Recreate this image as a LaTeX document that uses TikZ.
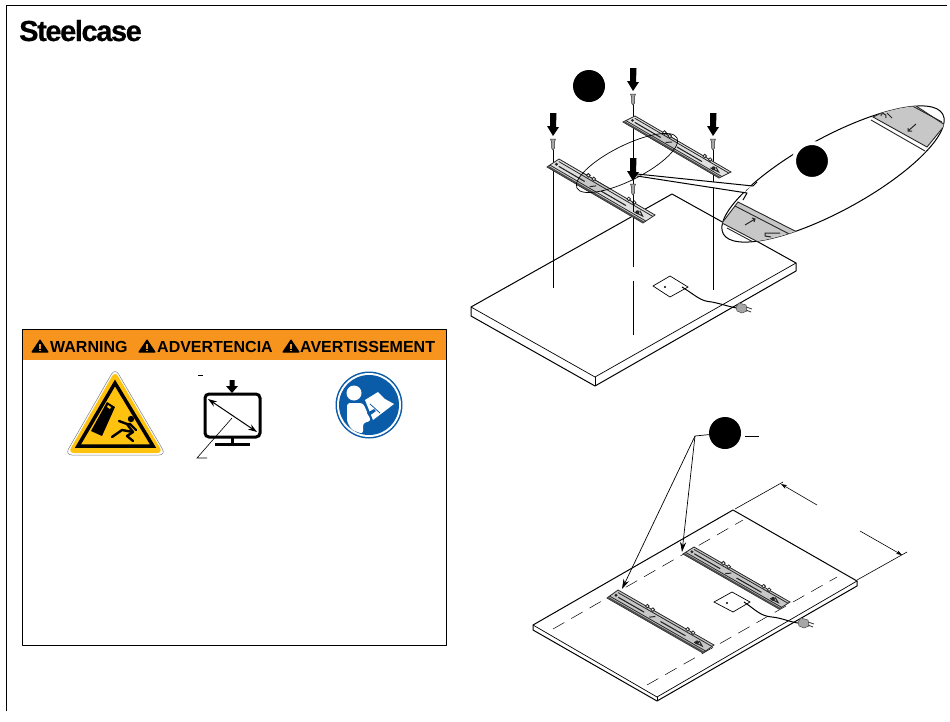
\documentclass[tikz,border=0pt]{standalone}
\usepackage{xcolor}
\usepackage{fontspec}
\usetikzlibrary{arrows.meta}
\setmainfont{Liberation Sans}
\definecolor{hdrorange}{HTML}{F7941E}
\definecolor{signyellow}{HTML}{FFC20E}
\definecolor{signblue}{HTML}{0B5CA8}
\definecolor{railgray}{gray}{0.78}
\definecolor{raillight}{gray}{0.88}

\tikzset{
    edge/.style={line width=1pt, line join=round},
    thinline/.style={line width=0.7pt},
    railline/.style={line width=0.8pt, draw=black!85},
    badge/.style={circle, fill=black, inner sep=0pt, outer sep=0pt, minimum size=32pt},
    halo/.style={circle, fill=black, draw=white, line width=4pt, inner sep=0pt, minimum size=36pt},
    hdr/.style={anchor=base west, inner sep=0pt, font=\fontsize{16}{16}\selectfont\bfseries}
}

% rail: origin, length vector, width vector (both in pt, y up), fill
\newcommand{\rail}[4]{
    \begin{scope}[shift={#1}, x={#2}, y={#3}]
        \filldraw[railline, fill=#4] (0,0) -- (1,0) -- (1,1) -- (0,1) -- cycle;
        \fill[black!70] (0,0) -- (1,0) -- (1,0.14) -- (0,0.14) -- cycle;
        \draw[railline] (0,0.24) -- (1,0.24);
        \draw[railline] (0.02,0.82) -- (1,0.82);
        \draw[railline, line width=1.1pt] (0.06,0.5) -- (0.33,0.5);
        \draw[railline, line width=1.1pt] (0.5,0.5) -- (0.76,0.5);
        \draw[railline, line width=1pt] (0.4,0.35) -- (0.43,0.65);
        \draw[railline, line width=1pt] (0.86,0.4) -- (0.94,0.45) -- (0.88,0.7);
        \fill[black!85] (0.03,0.55) circle [radius=1.6pt];
        \fill[black!85] (0.88,0.5) circle [radius=2pt];
        \draw[railline, fill=white] (0.3,1.05) circle [radius=1.8pt];
        \draw[railline, fill=white] (0.36,1.02) circle [radius=1.8pt];
        \draw[railline, fill=white] (0.72,1.05) circle [radius=1.8pt];
        \draw[railline, fill=white] (0.78,1.02) circle [radius=1.8pt];
    \end{scope}
}

% push arrow with its screw under it, #1 is the arrow top
\newcommand{\pushscrew}[1]{
    \begin{scope}[shift={#1}]
        \fill[black] (-3,0) -- (3.5,0) -- (3,14) -- (6,14) -- (0,23) -- (-6,13) -- (-3,13) -- cycle;
        \filldraw[line width=0.5pt, draw=black!80, fill=black!35] (-2.5,26) -- (2.5,26) -- (1.5,29) -- (1.5,35) -- (0,37) -- (-1.5,35) -- (-1.5,29) -- cycle;
    \end{scope}
}

% plug at the end of the cord
\newcommand{\plugend}[1]{
    \begin{scope}[shift={#1}]
        \filldraw[line width=0.5pt, draw=black!70, fill=black!35] (-9,-1) -- (-6,-5) -- (1,-3) -- (2,3) -- (-3,5) -- (-8,3) -- cycle;
        \draw[line width=0.9pt, black!75] (1,-1) -- (7,1);
        \draw[line width=0.9pt, black!75] (1,2) -- (6,4);
    \end{scope}
}

% small warning triangle in the header
\newcommand{\hdrmark}[1]{
    \begin{scope}[shift={#1}]
        \filldraw[black, line join=round, line width=1pt] (-8,0) -- (8,0) -- (0,-12) -- cycle;
        \fill[hdrorange] (-0.9,-8) rectangle (0.9,-3.2);
        \fill[hdrorange] (-0.9,-2.2) rectangle (0.9,-0.8);
    \end{scope}
}

\begin{document}
\begin{tikzpicture}[x=1pt, y=-1pt]
    \useasboundingbox (0,0) rectangle (950,721);
    \fill[white] (0,0) rectangle (950,721);

    % Page frame
    \draw[edge] (6,711) -- (6,5) -- (947,5);
    \node (logo) [anchor=base west, inner sep=0pt, font=\fontsize{29}{29}\selectfont\bfseries] at (19,41)
        {\addfontfeature{LetterSpace=-4.8,FakeBold=0.6}Steelcase};

    % Warning box
    \fill[hdrorange] (22,329) rectangle (446,360);
    \draw[edge] (22,329) rectangle (446,645);
    \hdrmark{(40,352)}
    \hdrmark{(147,352)}
    \hdrmark{(291,352)}
    \node (warnen) [hdr] at (50,352) {WARNING};
    \node (warnes) [hdr] at (157,352) {ADVERTENCIA};
    \node (warnfr) [hdr] at (300,352) {AVERTISSEMENT};

    % Tip-over sign
    \filldraw[line width=0.5pt, draw=black!50, fill=white, rounded corners=7pt] (115,368) -- (166,455) -- (65,455) -- cycle;
    \fill[signyellow, rounded corners=6pt] (115,371) -- (163,453) -- (68,453) -- cycle;
    \draw[line width=3.5pt, black, line join=miter] (115,383) -- (153,446) -- (78,446) -- cycle;
    \fill[black] (107,402) -- (115,407) -- (102,436) -- (91,431) -- cycle;
    \fill[signyellow] (108,405) -- (111,407) -- (110,409) -- (107,407) -- cycle;
    \fill[black] (131,419) circle [radius=3.2pt];
    \draw[line width=2.4pt, black, line cap=round, line join=round] (119,421) -- (127,424) -- (133,432) -- (127,436) -- (133,441);
    \draw[line width=2.4pt, black, line cap=round, line join=round] (127,424) -- (130,424) -- (136,430);
    \draw[line width=2.4pt, black, line cap=round, line join=round] (133,432) -- (122,430) -- (112,437);

    % Monitor sign
    \draw[line width=3pt, black, rounded corners=4pt] (205,394) rectangle (260,437);
    \draw[line width=3pt, black] (232,437) -- (232,443);
    \draw[line width=3pt, black] (215,444) -- (250,444);
    \fill[black] (229.5,380) -- (234.5,380) -- (234.5,386) -- (238,386) -- (232,393) -- (226,386) -- (229.5,386) -- cycle;
    \coordinate (diagA) at (208,399);
    \coordinate (diagB) at (257,432);
    \draw[line width=1pt, {Stealth[length=9pt,width=6pt]}-{Stealth[length=9pt,width=6pt]}] (diagA) -- (diagB);
    \coordinate (sizeend) at (207,458);
    \coordinate (sizebend) at (197,458);
    \coordinate (sizeroot) at (232,418);
    \draw[line width=0.6pt] (sizeroot) -- (sizebend) -- (sizeend);
    \draw[line width=0.7pt] (198,375) -- (203,375);

    % Read manual sign
    \fill[signblue] (369,405) circle [radius=33.5pt];
    \fill[white] (369,405) circle [radius=32pt];
    \fill[signblue] (369,405) circle [radius=30pt];
    \fill[white] (354,393) circle [radius=7.5pt];
    \fill[white, rounded corners=3pt] (347,403) -- (363,403) -- (367,412) -- (371,421) -- (363,423) -- (363,434) -- (352,430) -- (347,422) -- cycle;
    \fill[white] (365,400) -- (378,392) -- (385,399) -- (394,404) -- (373,420) -- cycle;
    \draw[signblue, line width=0.8pt] (370,404) -- (380,413);
    \fill[signblue] (367,413) -- (374,409) -- (376,411) -- (369,416) -- cycle;

    % Upper board
    \filldraw[edge, fill=white] (471,307) -- (471,316) -- (595,386) -- (796,271) -- (796,263) -- (672,194) -- cycle;
    \draw[thinline] (471,307) -- (595,377) -- (796,263);
    \draw[thinline] (595,377) -- (595,386);

    % Upper plate and cord
    \filldraw[thinline, fill=white] (653,286) -- (670,276) -- (688,287) -- (670,297) -- cycle;
    \fill[black] (665,287) circle [radius=1.2pt];
    \draw[line width=1pt] (682,287) .. controls (698,297) and (700,301) .. (712,302) .. controls (722,304) and (730,307) .. (737,308);
    \plugend{(745,308)}

    % Upper guide lines
    \draw[thinline] (553,150) -- (553,288);
    \draw[thinline] (633,103) -- (633,267);
    \draw[thinline] (633,281) -- (633,335);
    \draw[thinline] (713,150) -- (713,290);

    % Upper rails
    \rail{(547,167)}{(96pt,-56pt)}{(12pt,8pt)}{raillight}
    \rail{(623,122)}{(96pt,-56pt)}{(12pt,6pt)}{raillight}
    \begin{scope}
        \clip[rotate around={26.6:(627,163)}] (627,163) ellipse [x radius=56pt, y radius=17.5pt];
        \rail{(547,167)}{(96pt,-56pt)}{(12pt,8pt)}{railgray}
        \rail{(623,122)}{(96pt,-56pt)}{(12pt,6pt)}{railgray}
    \end{scope}
    \draw[thinline] (633,198) -- (633,212);
    \draw[thinline, rotate around={26.6:(627,163)}] (627,163) ellipse [x radius=56pt, y radius=17.5pt];

    % Detail view
    \filldraw[edge, fill=white, rotate around={28.6:(833,174)}] (833,174) ellipse [x radius=125pt, y radius=37pt];
    \begin{scope}
        \clip[rotate around={28.6:(833,174)}] (833,174) ellipse [x radius=125pt, y radius=37pt];
        \filldraw[railline, line width=0.9pt, fill=railgray] (738,202) -- (797,232) -- (760,243) -- (722,223) -- cycle;
        \filldraw[railline, line width=0.9pt, fill=railgray] (873,117) -- (927,147) -- (945,125) -- (907,100) -- cycle;
        \draw[railline, line width=0.9pt] (735,206) -- (795,237);
        \draw[railline, line width=0.9pt] (727,228) -- (755,243);
        \draw[railline, line width=0.9pt] (871,120) -- (925,151);
        \draw[railline, line width=0.9pt] (905,102) -- (942,122);
        \draw[railline, line width=1pt] (745,225) -- (755,219) (752,218) -- (755,219) -- (754,222);
        \draw[railline, line width=1pt] (771,237) -- (765,236) -- (765,233) -- (780,233);
        \draw[railline, line width=1pt] (908,131) -- (916,124) (908,128) -- (908,131) -- (912,131);
        \draw[railline, line width=1pt] (881,116) .. controls (879,112) and (888,113) .. (886,118) (887,113) -- (892,118);
    \end{scope}
    \fill[white] (637,175) -- (753,186) -- (757,182) -- (746,190) -- (741,201) -- (747,193) -- cycle;
    \draw[edge] (637,174) -- (753,186) -- (757,182);
    \draw[edge] (637,176) -- (747,193) -- (743,200);
    \node (markdetail) [halo] at (812,161) {};

    % Push arrows and screws
    \pushscrew{(633,68)}
    \pushscrew{(553,113)}
    \pushscrew{(713,113)}
    \pushscrew{(633,158)}
    \node (markscrew) [badge] at (589,86) {};

    % Lower board
    \filldraw[edge, fill=white] (533,625) -- (533,630) -- (657,701) -- (857,586) -- (857,581) -- (733,510) -- cycle;
    \draw[thinline] (533,625) -- (657,697) -- (857,581);
    \draw[thinline] (657,697) -- (657,701);
    \draw[line width=0.5pt, dash pattern=on 13pt off 8pt] (553,629) -- (743,520);
    \draw[line width=0.5pt, dash pattern=on 13pt off 8pt] (647,685) -- (837,577);

    % Lower plate and cord
    \filldraw[thinline, fill=white] (714,602) -- (732,592) -- (750,602) -- (733,612) -- cycle;
    \fill[black] (727,603) circle [radius=1.2pt];
    \draw[line width=1pt] (744,602) .. controls (756,610) and (760,616) .. (772,617) .. controls (782,618) and (790,622) .. (798,623);
    \plugend{(807,623)}

    % Lower rails
    \rail{(607,598)}{(96pt,-55pt)}{(11pt,8pt)}{railgray}
    \rail{(683,554)}{(96pt,-55pt)}{(11pt,7pt)}{railgray}

    % Callout
    \node (markplace) [badge] at (725,433) {};
    \coordinate (callout) at (695,436);
    \coordinate (railA) at (622,589);
    \coordinate (railB) at (682,552);
    \draw[thinline] (callout) -- (markplace);
    \draw[thinline, -{Stealth[length=10pt,width=6pt]}] (callout) -- (railA);
    \draw[thinline, -{Stealth[length=10pt,width=6pt]}] (callout) -- (railB);
    \coordinate (tickA) at (745,436);
    \coordinate (tickB) at (759,436);
    \draw[line width=0.6pt] (tickA) -- (tickB);

    % Dimension
    \coordinate (dimbackA) at (735,509);
    \coordinate (dimbackB) at (783,482);
    \coordinate (dimfrontA) at (857,580);
    \coordinate (dimfrontB) at (907,552);
    \coordinate (dimA) at (781,484);
    \coordinate (dimAend) at (817,505);
    \coordinate (dimB) at (902,555);
    \coordinate (dimBend) at (860,531);
    \draw[line width=0.6pt] (dimbackA) -- (dimbackB);
    \draw[line width=0.6pt] (dimfrontA) -- (dimfrontB);
    \draw[line width=0.6pt, {Stealth[length=6pt,width=4pt]}-] (dimA) -- (dimAend);
    \draw[line width=0.6pt, {Stealth[length=6pt,width=4pt]}-] (dimB) -- (dimBend);
\end{tikzpicture}
\end{document}
